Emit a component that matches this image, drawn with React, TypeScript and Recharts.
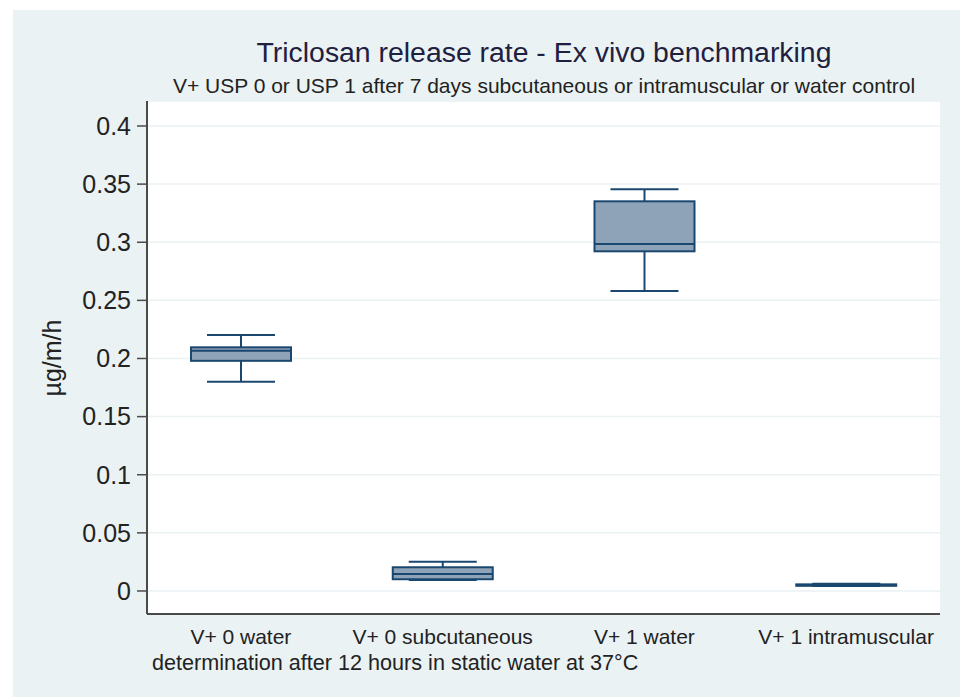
import React from 'react';
import { ComposedChart, Bar, XAxis, YAxis, CartesianGrid } from 'recharts';

const categories = ['V+ 0 water', 'V+ 0 subcutaneous', 'V+ 1 water', 'V+ 1 intramuscular'];
const whiskerLow = [0.18, 0.0095, 0.258, 0.0042];
const q1 = [0.198, 0.0101, 0.2922, 0.0045];
const median = [0.2067, 0.0146, 0.2985, 0.005];
const q3 = [0.2096, 0.0204, 0.3352, 0.0057];
const whiskerHigh = [0.2202, 0.0252, 0.3455, 0.0062];
const yTicks = [0, 0.05, 0.1, 0.15, 0.2, 0.25, 0.3, 0.35, 0.4];

const data = categories.map((name, i) => ({
  name,
  range: [whiskerLow[i], whiskerHigh[i]],
  q1: q1[i],
  median: median[i],
  q3: q3[i],
}));

const FONT = '"Liberation Sans", Arial, sans-serif';
const LINE = '#1a476f';
const FILL = '#8fa3b8';
const PANEL = '#eaf2f3';

// draws a box from the range bar: the bar spans whiskerLow..whiskerHigh,
// so its pixel height gives the y-scale for the quartiles
const BoxShape = (props: any) => {
  const { x, y, width, height, payload } = props;
  const [lo, hi] = payload.range;
  const k = hi - lo > 0 ? height / (hi - lo) : 0;
  const py = (v: number) => y + (hi - v) * k;
  const cx = x + width / 2;
  const capW = width * 0.68;
  return (
    <g>
      <line x1={cx} x2={cx} y1={py(hi)} y2={py(payload.q3)} stroke={LINE} strokeWidth={2} />
      <line x1={cx} x2={cx} y1={py(payload.q1)} y2={py(lo)} stroke={LINE} strokeWidth={2} />
      <line x1={cx - capW / 2} x2={cx + capW / 2} y1={py(hi)} y2={py(hi)} stroke={LINE} strokeWidth={2} />
      <line x1={cx - capW / 2} x2={cx + capW / 2} y1={py(lo)} y2={py(lo)} stroke={LINE} strokeWidth={2} />
      <rect
        x={x}
        y={py(payload.q3)}
        width={width}
        height={Math.max(py(payload.q1) - py(payload.q3), 0.5)}
        fill={FILL}
        stroke={LINE}
        strokeWidth={2}
      />
      <line x1={x} x2={x + width} y1={py(payload.median)} y2={py(payload.median)} stroke={LINE} strokeWidth={2} />
    </g>
  );
};

const App: React.FC = () => {
  return (
    <div style={{ position: 'absolute', left: 0, top: 0, width: 960, height: 697, background: '#fff', fontFamily: FONT }}>
      <div style={{ position: 'absolute', left: 13, top: 10, width: 947, height: 687, background: PANEL }} />
      <div style={{ position: 'absolute', left: 0, top: 0 }}>
        <ComposedChart width={960} height={697} data={data} margin={{ top: 101, right: 20, bottom: 43, left: 0 }}>
          <CartesianGrid vertical={false} stroke={PANEL} strokeWidth={1.5} fill="#ffffff" />
          <XAxis
            dataKey="name"
            height={40}
            padding={{ left: -7, right: -7 }}
            axisLine={{ stroke: '#4a4a4a', strokeWidth: 2 }}
            tickLine={false}
            tickSize={6}
            tickMargin={9}
            tick={{ fontSize: 21, fill: '#222', fontFamily: FONT }}
            interval={0}
          />
          <YAxis
            width={147}
            type="number"
            domain={[-0.0198, 0.4215]}
            allowDataOverflow
            ticks={yTicks}
            tickSize={10}
            tickMargin={6}
            axisLine={{ stroke: '#4a4a4a', strokeWidth: 2 }}
            tickLine={{ stroke: '#4a4a4a', strokeWidth: 1.5 }}
            tick={{ fontSize: 25, fill: '#222', fontFamily: FONT }}
          />
          <Bar dataKey="range" barSize={100} shape={<BoxShape />} isAnimationActive={false} />
        </ComposedChart>
      </div>
      <svg width={960} height={697} style={{ position: 'absolute', left: 0, top: 0, pointerEvents: 'none' }}>
        <text x={544} y={62} textAnchor="middle" fontSize={28.4} fill="#1f2040" fontFamily={FONT}>
          Triclosan release rate - Ex vivo benchmarking
        </text>
        <text x={544} y={93} textAnchor="middle" fontSize={21} fill="#222" fontFamily={FONT}>
          V+ USP 0 or USP 1 after 7 days subcutaneous or intramuscular or water control
        </text>
        <text
          x={61}
          y={358}
          textAnchor="middle"
          fontSize={25}
          fill="#222"
          fontFamily={FONT}
          transform="rotate(-90 61 358)"
        >
          µg/m/h
        </text>
        <text x={152} y={670} fontSize={21.6} fill="#222" fontFamily={FONT}>
          determination after 12 hours in static water at 37°C
        </text>
      </svg>
    </div>
  );
};

export default App;
